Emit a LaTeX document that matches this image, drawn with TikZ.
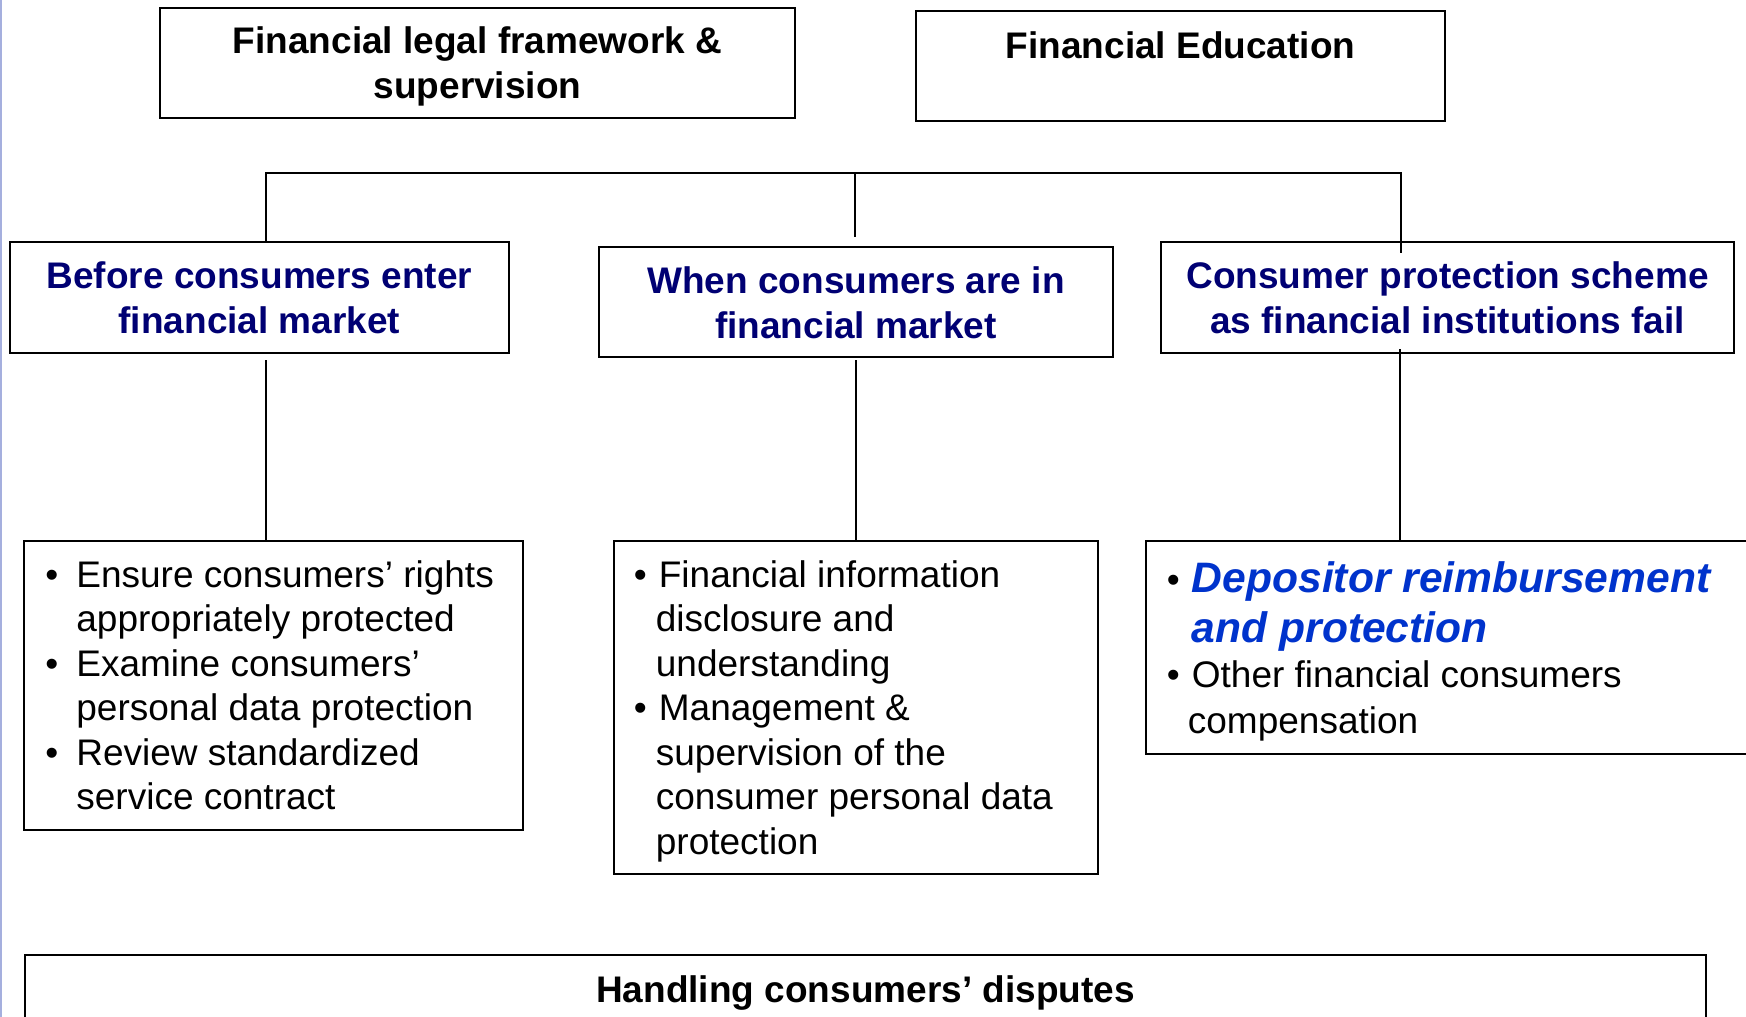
\documentclass[tikz,border=0pt]{standalone}
\usepackage{fontspec}
\setmainfont{Liberation Sans}
\usetikzlibrary{fit}
\definecolor{navy}{RGB}{0,0,115}
\definecolor{brightblue}{RGB}{0,51,204}
\definecolor{edgeblue}{RGB}{165,175,222}
% #1 bullet box width, #2 hanging indent, #3 text
\newcommand\bulletitem[3]{\noindent\hangindent=#2\hangafter=1\makebox[#1][l]{\strut{\fontsize{18.5}{22.5}\selectfont\textbullet}}#3\par}
\begin{document}
\begin{tikzpicture}[x=0.5pt,y=-0.5pt,
  box/.style={draw=black, line width=1pt, rectangle, inner sep=0pt},
  txt/.style={inner sep=0pt, font=\fontsize{18.5}{22.5}\selectfont},
  head/.style={txt, anchor=base, font=\fontsize{18.5}{22.5}\selectfont\bfseries},
  phase/.style={head, text=navy},
  conn/.style={draw=black, line width=0.8pt},
]
\useasboundingbox (0,0) rectangle (1746,1017);
\fill[white] (0,0) rectangle (1746,1017);
\draw[edgeblue, line width=1pt] (1,0) -- (1,1017);

% boxes
\node[box, fit={(160,8) (795,118)}] (A) {};
\node[box, fit={(916,11) (1445,121)}] (B) {};
\node[box, fit={(10,242) (509,353)}] (C) {};
\node[box, fit={(599,247) (1113,357)}] (D) {};
\node[box, fit={(1161,242) (1734,353)}] (E) {};
\node[box, fit={(24,541) (523,830)}] (F) {};
\node[box, fit={(614,541) (1098,874)}] (G) {};
\node[box, fit={(1146,541) (1780,754)}] (H) {};
\node[box, fit={(25,955) (1706,1040)}] (I) {};

% headings
\node[head] (At) at (477.5,54) {\parbox[t]{300pt}{\centering Financial legal framework \&\\supervision}};
\node[head] (Bt) at (1180.5,58) {Financial Education};
\node[phase] (Ct) at (259.5,288) {\parbox[t]{240pt}{\centering Before consumers enter\\financial market}};
\node[phase] (Dt) at (856,293.5) {\parbox[t]{240pt}{\centering When consumers are in\\financial market}};
\node[phase] (Et) at (1447.5,288) {\parbox[t]{280pt}{\centering Consumer protection scheme\\as financial institutions fail}};
\node[head] (It) at (865.5,1002) {Handling consumers’ disputes};

% bullet texts
\node[txt, anchor=base west] (Ft) at (45,587) {\parbox[t]{250pt}{\fontsize{18.5}{22.25}\selectfont
\bulletitem{15.5pt}{15.5pt}{Ensure consumers’ rights\newline appropriately protected}%
\bulletitem{15.5pt}{15.5pt}{Examine consumers’\newline personal data protection}%
\bulletitem{15.5pt}{15.5pt}{Review standardized\newline service contract}}};

\node[txt, anchor=base west] (Gt) at (633.5,587) {\parbox[t]{250pt}{\fontsize{18.5}{22.25}\selectfont
\bulletitem{12.5pt}{11pt}{Financial information\newline disclosure and\newline understanding}%
\bulletitem{12.5pt}{11pt}{Management \&\newline supervision of the\newline consumer personal data\newline protection}}};

\node[txt, anchor=base west] (Ht) at (1166.5,592) {\parbox[t]{300pt}{%
{\fontsize{21.3}{25}\selectfont\bulletitem{12.5pt}{12.5pt}{{\color{brightblue}\bfseries\itshape Depositor reimbursement\newline and protection}}}%
{\fontsize{18.5}{22.75}\selectfont\bulletitem{12.5pt}{10.5pt}{Other financial consumers\newline compensation}}}};

% connectors
\coordinate (bl) at (266,173);
\coordinate (bm) at (855,173);
\coordinate (br) at (1401,173);
\coordinate (mend) at (855,237);
\coordinate (rend) at (1401,253);
\draw[conn] (C.north -| bl) -- (bl) -- (br) -- (rend);
\draw[conn] (bm) -- (mend);
\coordinate (c1) at (266,360);
\coordinate (d1) at (856,360);
\coordinate (e1) at (1400,349);
\draw[conn] (c1) -- (F.north -| c1);
\draw[conn] (d1) -- (G.north -| d1);
\draw[conn] (e1) -- (H.north -| e1);
\end{tikzpicture}
\end{document}
